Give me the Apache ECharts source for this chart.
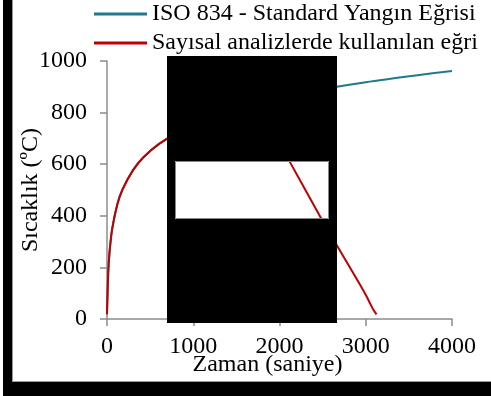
<!DOCTYPE html>
<html>
<head>
<meta charset="utf-8">
<script src="https://cdn.jsdelivr.net/npm/echarts@6/dist/echarts.min.js"></script>
<style>html,body{margin:0;padding:0;background:#fff;}#c{width:491px;height:396px;}</style>
</head>
<body>
<div id="c"></div>
<script>
// Data
const seriesNames = ['ISO 834 - Standard Yangın Eğrisi', 'Sayısal analizlerde kullanılan eğri'];
const isoTime = [0, 15, 30, 60, 120, 180, 300, 420, 600, 900, 1200, 1500, 1800, 2400, 3000, 3600, 4000];
const isoTemp = [20, 185, 261, 349, 445, 502, 576, 626, 678, 739, 781, 813, 842, 885, 918, 945, 961];
const numTime = [0, 15, 30, 60, 120, 180, 300, 420, 600, 900, 1200, 1500, 1750, 2118, 2487, 2673, 2990, 3048, 3085, 3125];
const numTemp = [18, 185, 261, 349, 445, 502, 576, 626, 678, 739, 781, 813, 830, 610, 388, 281, 100, 62, 38, 18];
const xTicks = [0, 1000, 2000, 3000, 4000];
const yTicks = [0, 200, 400, 600, 800, 1000];
const xTitle = 'Zaman (saniye)';
const yTitle = 'Sıcaklık (ºC)';

const FONT = '"Liberation Serif", "Times New Roman", serif';
const FS = 24;
const axisGray = '#8c8c8c';
const colors = ['#1f7a8c', '#c00000'];

const chart = echarts.init(document.getElementById('c'), null, {renderer: 'canvas'});
const zip = (a, b) => a.map((v, i) => [v, b[i]]);
const lineIcon = 'path://M0,0 L53,0 L53,3 L0,3 Z';

chart.setOption({
  animation: false,
  backgroundColor: '#ffffff',
  textStyle: {fontFamily: FONT, color: '#000'},
  grid: {left: 107, right: 39, top: 61, bottom: 77, containLabel: false},
  legend: {
    orient: 'vertical',
    left: 94, top: 2, padding: 0,
    itemWidth: 53, itemHeight: 3, itemGap: 5,
    textStyle: {fontFamily: FONT, fontSize: FS, lineHeight: 24, color: '#000'},
    data: [
      {name: seriesNames[0], icon: lineIcon, itemStyle: {color: colors[0]}},
      {name: seriesNames[1], icon: lineIcon, itemStyle: {color: colors[1]}}
    ]
  },
  xAxis: {
    type: 'value', min: xTicks[0], max: xTicks[xTicks.length - 1], interval: 1000,
    name: xTitle, nameLocation: 'middle', nameGap: 34, nameMoveOverlap: false,
    nameTextStyle: {fontFamily: FONT, fontSize: FS, color: '#000', padding: [0, 24, 0, 0]},
    axisLine: {show: true, onZero: false, lineStyle: {color: axisGray, width: 1.5}},
    axisTick: {show: true, length: 7, lineStyle: {color: axisGray, width: 1.5}},
    axisLabel: {fontFamily: FONT, fontSize: FS, color: '#000', margin: 16, formatter: v => String(v)},
    splitLine: {show: false}
  },
  yAxis: {
    type: 'value', min: yTicks[0], max: yTicks[yTicks.length - 1], interval: 200,
    name: yTitle, nameLocation: 'middle', nameGap: 64, nameRotate: 90, nameMoveOverlap: false,
    nameTextStyle: {fontFamily: FONT, fontSize: FS, color: '#000'},
    axisLine: {show: true, lineStyle: {color: axisGray, width: 1.5}},
    axisTick: {show: true, length: 7, lineStyle: {color: axisGray, width: 1.5}},
    axisLabel: {fontFamily: FONT, fontSize: FS, color: '#000', margin: 20, formatter: v => String(v)},
    splitLine: {show: false}
  },
  series: [
    {
      name: seriesNames[0], type: 'line', data: zip(isoTime, isoTemp),
      smooth: 0.3, symbol: 'none', showSymbol: false,
      lineStyle: {color: colors[0], width: 2}, itemStyle: {color: colors[0]}, z: 2
    },
    {
      name: seriesNames[1], type: 'line', data: zip(numTime, numTemp),
      smooth: 0.3, symbol: 'none', showSymbol: false,
      lineStyle: {color: colors[1], width: 2}, itemStyle: {color: colors[1]}, z: 3
    }
  ],
  graphic: [
    // frame
    {type: 'rect', shape: {x: 3, y: 0, width: 9, height: 396}, style: {fill: '#000'}, z: 100},
    {type: 'rect', shape: {x: 3, y: 382, width: 488, height: 14}, style: {fill: '#000'}, z: 100},
    {type: 'line', shape: {x1: 12.5, y1: 0, x2: 12.5, y2: 381.5}, style: {stroke: '#999', lineWidth: 1}, z: 100},
    {type: 'line', shape: {x1: 12, y1: 381.5, x2: 491, y2: 381.5}, style: {stroke: '#999', lineWidth: 1}, z: 100},
    // occluding box with window
    {type: 'rect', shape: {x: 167, y: 56, width: 170, height: 105}, style: {fill: '#000'}, z: 100},
    {type: 'rect', shape: {x: 167, y: 219, width: 170, height: 104}, style: {fill: '#000'}, z: 100},
    {type: 'rect', shape: {x: 167, y: 161, width: 8, height: 58}, style: {fill: '#000'}, z: 100},
    {type: 'rect', shape: {x: 329, y: 161, width: 8, height: 58}, style: {fill: '#000'}, z: 100},
    {type: 'rect', shape: {x: 175.5, y: 161.5, width: 153, height: 57}, style: {fill: 'none', stroke: '#888', lineWidth: 1}, z: 100}
  ]
});
</script>
</body>
</html>
